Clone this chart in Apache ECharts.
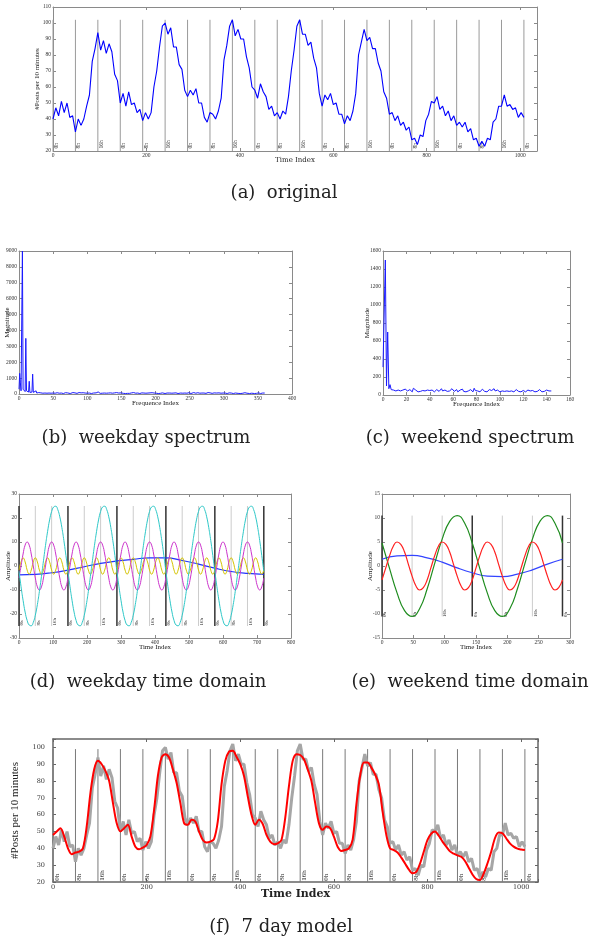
<!DOCTYPE html>
<html>
<head>
<meta charset="utf-8">
<script src="https://cdn.jsdelivr.net/npm/echarts@6/dist/echarts.min.js"></script>
<style>
  html, body { margin: 0; padding: 0; background: #fff; }
  #chart { width: 601px; height: 937px; }
</style>
</head>
<body>
<div id="chart"></div>
<script>
// posts per 10 minutes, one value every 6 time indices (0..1008)
const origStep = 6
const origVals = [
  40,47,42,51,44,50,41,42,32,40,36,40,
  48,55,76,84,94,83,89,81,87,82,68,64,
  50,56,48,57,49,50,44,46,39,44,40,44,
  60,70,85,98,100,93,97,85,85,74,71,58,
  54,58,55,59,50,50,41,38,44,43,40,45,
  53,77,86,98,102,92,96,90,90,79,72,60,
  58,53,62,57,54,46,48,42,44,40,45,43,
  54,70,83,98,102,93,93,86,88,78,72,56,
  48,55,52,56,49,50,43,43,37,42,39,45,
  56,80,88,96,89,91,84,84,75,70,57,53,
  43,44,39,42,36,38,33,35,27,28,24,30,
  29,39,43,51,50,54,46,48,42,45,39,42,
  36,38,35,38,32,34,27,28,23,26,23,28,
  27,38,40,48,48,55,48,49,46,47,41,44,
  41
]

// 7 day model, one value every 8 time indices
const modelStep = 8
const modelVals = [
  48,50,52,47,40,36.5,37.5,38,40,53,73,87,
  92,90,86,80,67,55,50,52,54,47,41,39.5,
  40.5,42,47,63,83,94,96,94,87,79,67,55,
  54,57,56,50,45,43.5,44,45.5,56,78,92,97.5,
  98,94.5,90,83,71,60,54,57,54.5,48,44,42.5,
  43,45,58,77,92,96,95.5,93,87,80,67,55,
  51,53,52,47,41,38.5,39,40,45,66,83,91,
  91,88,84,78,62,48,40,39,37.5,34.5,31,27.5,
  25.2,26,31,38,45,48.8,50,47.5,44,41,38.2,36.8,
  35.8,35,32.5,28.5,24.5,21.8,21.2,25,31,38,46,49.4,
  49,46,43,41,39.8,39.3,39
]

// weekday spectrum magnitude, frequence index 0..360
const weekdayMag = [
  300,1300,700,200,250,9000,300,200,300,150,
  3500,200,120,80,120,800,100,60,90,120,
  1250,100,60,80,70,200,60,80,50,90,
  100,40,70,60,90,50,30,80,60,40,
  70,50,90,40,60,30,80,50,70,40,
  60,90,30,50,70,40,80,60,30,50,
  90,40,60,110,50,30,70,40,80,60,
  40,70,100,50,60,30,80,50,40,90,
  60,30,70,50,80,40,60,30,90,50,
  40,70,60,30,80,50,40,60,70,30,
  50,80,40,60,90,50,30,70,40,60,
  80,50,40,70,60,100,130,90,60,40,
  140,70,50,80,40,60,30,70,50,40,
  90,60,30,50,70,40,80,50,60,30,
  70,40,60,90,50,30,60,80,40,50,
  70,30,60,40,80,50,30,70,60,40,
  50,80,40,60,30,70,50,40,90,60,
  30,50,70,40,60,80,50,30,60,40,
  70,50,40,60,30,80,50,70,40,60,
  50,30,70,60,40,80,50,40,60,70,
  100,50,40,70,30,60,80,40,50,30,
  70,40,60,50,30,80,40,60,70,50,
  40,60,30,70,50,40,80,60,30,50,
  70,40,60,30,80,50,40,60,70,30,
  50,80,40,60,30,70,50,40,60,80,
  40,60,30,70,50,40,90,60,30,50,
  70,40,80,60,90,50,70,40,60,80,
  100,60,50,80,40,70,60,90,50,40,
  70,50,80,40,60,30,70,50,40,60,
  80,50,40,70,60,30,50,80,40,60,
  70,40,60,50,80,30,60,40,70,50,
  40,60,90,50,30,70,40,60,80,50,
  60,40,70,50,30,80,60,40,70,50,
  40,80,60,100,50,40,60,70,30,60,
  80,50,40,70,60,30,50,70,40,60,
  50,70,40,60,30,50,40,60,50,40,
  60
]

// weekend spectrum magnitude, frequence index 0..144
const weekendMag = [
  310,330,1500,100,700,70,115,60,75,55,
  60,45,65,55,35,45,40,55,50,65,
  75,45,40,60,45,35,75,70,55,40,
  35,45,40,55,50,35,45,60,55,65,
  50,40,55,45,35,50,60,45,40,55,
  70,45,35,55,50,40,60,45,55,70,
  50,40,45,60,35,50,55,45,65,40,
  50,35,55,45,40,60,45,35,75,50,
  40,45,55,35,50,65,45,40,55,35,
  45,60,40,50,35,70,45,40,55,45,
  35,50,45,60,40,35,45,55,40,35,
  45,40,35,50,60,45,40,55,35,45,
  50,40,35,45,55,40,45,35,50,40,
  35,45,40,55,60,45,35,50,40,45,
  55,40,45,50,45
]

// weekday time domain components, one value every 6 indices (0..720)
const wdStep = 6
const wdCyan = [
  -2.2,-8.6,-14.3,-19.2,-22.7,-24.6,-24.9,-23.5,-20.5,-16.1,-10.6,-4.4,2.2,8.6,14.3,19.2,22.7,24.6,24.9,23.5,20.5,16.1,10.6,4.4,
  -2.2,-8.6,-14.3,-19.2,-22.7,-24.6,-24.9,-23.5,-20.5,-16.1,-10.6,-4.4,2.2,8.6,14.3,19.2,22.7,24.6,24.9,23.5,20.5,16.1,10.6,4.4,
  -2.2,-8.6,-14.3,-19.2,-22.7,-24.6,-24.9,-23.5,-20.5,-16.1,-10.6,-4.4,2.2,8.6,14.3,19.2,22.7,24.6,24.9,23.5,20.5,16.1,10.6,4.4,
  -2.2,-8.6,-14.3,-19.2,-22.7,-24.6,-24.9,-23.5,-20.5,-16.1,-10.6,-4.4,2.2,8.6,14.3,19.2,22.7,24.6,24.9,23.5,20.5,16.1,10.6,4.4,
  -2.2,-8.6,-14.3,-19.2,-22.7,-24.6,-24.9,-23.5,-20.5,-16.1,-10.6,-4.4,2.2,8.6,14.3,19.2,22.7,24.6,24.9,23.5,20.5,16.1,10.6,4.4,
  -2.2
]
const wdMagenta = [
  -5,0,5,8.7,10,8.7,5,0,-5,-8.7,-10,-8.7,
  -5,0,5,8.7,10,8.7,5,0,-5,-8.7,-10,-8.7,
  -5,0,5,8.7,10,8.7,5,0,-5,-8.7,-10,-8.7,
  -5,0,5,8.7,10,8.7,5,0,-5,-8.7,-10,-8.7,
  -5,0,5,8.7,10,8.7,5,0,-5,-8.7,-10,-8.7,
  -5,0,5,8.7,10,8.7,5,0,-5,-8.7,-10,-8.7,
  -5,0,5,8.7,10,8.7,5,0,-5,-8.7,-10,-8.7,
  -5,0,5,8.7,10,8.7,5,0,-5,-8.7,-10,-8.7,
  -5,0,5,8.7,10,8.7,5,0,-5,-8.7,-10,-8.7,
  -5,0,5,8.7,10,8.7,5,0,-5,-8.7,-10,-8.7,
  -5
]
const wdYellow = [
  -1.7,1.7,3.4,1.7,-1.7,-3.4, -1.7,1.7,3.4,1.7,-1.7,-3.4, -1.7,1.7,3.4,1.7,-1.7,-3.4, -1.7,1.7,3.4,1.7,-1.7,-3.4,
  -1.7,1.7,3.4,1.7,-1.7,-3.4, -1.7,1.7,3.4,1.7,-1.7,-3.4, -1.7,1.7,3.4,1.7,-1.7,-3.4, -1.7,1.7,3.4,1.7,-1.7,-3.4,
  -1.7,1.7,3.4,1.7,-1.7,-3.4, -1.7,1.7,3.4,1.7,-1.7,-3.4, -1.7,1.7,3.4,1.7,-1.7,-3.4, -1.7,1.7,3.4,1.7,-1.7,-3.4,
  -1.7,1.7,3.4,1.7,-1.7,-3.4, -1.7,1.7,3.4,1.7,-1.7,-3.4, -1.7,1.7,3.4,1.7,-1.7,-3.4, -1.7,1.7,3.4,1.7,-1.7,-3.4,
  -1.7,1.7,3.4,1.7,-1.7,-3.4, -1.7,1.7,3.4,1.7,-1.7,-3.4, -1.7,1.7,3.4,1.7,-1.7,-3.4, -1.7,1.7,3.4,1.7,-1.7,-3.4,
  -1.7
]
// slow component, one value every 48 indices
const wdBlueStep = 48
const wdBlue = [-3.7,-3.5,-2.8,-1.7,-0.3,1.1,2.1,2.8,3.4,3.4,2.3,0.8,-0.9,-2.3,-3.1,-3.5]

// weekend time domain components (0..288)
const weGreenStep = 12
const weGreen = [
  4.8,-0.5,-5.6,-9.3,-10.5,-8.9,-4.8,0.5,5.6,9.3,10.5,8.9,
  4.8,-0.5,-5.6,-9.3,-10.5,-8.9,-4.8,0.5,5.6,9.3,10.5,8.9,
  4.8
]
const weRedStep = 6
const weRed = [
  -2.9,-0.4,2.1,4.1,5,4.5,2.9,0.4,-2.1,-4.1,-5,-4.5,
  -2.9,-0.4,2.1,4.1,5,4.5,2.9,0.4,-2.1,-4.1,-5,-4.5,
  -2.9,-0.4,2.1,4.1,5,4.5,2.9,0.4,-2.1,-4.1,-5,-4.5,
  -2.9,-0.4,2.1,4.1,5,4.5,2.9,0.4,-2.1,-4.1,-5,-4.5,
  -2.9
]
const weBlueStep = 24
const weBlue = [1.4,2.1,2.2,1.7,0.8,-0.4,-1.4,-2.1,-2.2,-1.7,-0.8,0.4,1.4]

// hour markers every 8 hours (48 time indices)
const hourLabels = ['0h', '8h', '16h']
const markStep = 48

const captions = [
  '(a)  original',
  '(b)  weekday spectrum',
  '(c)  weekend spectrum',
  '(d)  weekday time domain',
  '(e)  weekend time domain',
  '(f)  7 day model',
]

const serif = 'Liberation Serif'
const wide = 'DejaVu Serif'

function pairs(vals, step) {
  return vals.map((v, i) => [i * step, v])
}

function marks(count, y0, y1, yText) {
  const out = []
  for (let k = 0; k <= count; k++) out.push([k * markStep, y0, y1, yText, k % 3])
  return out
}

function markRender(look) {
  return (params, api) => {
    const x = api.value(0)
    const p0 = api.coord([x, api.value(1)])
    const p1 = api.coord([x, api.value(2)])
    const pt = api.coord([x, api.value(3)])
    const phase = api.value(4)
    const day = phase === 0
    return {
      type: 'group',
      children: [
        {
          type: 'line',
          shape: { x1: p0[0], y1: p0[1], x2: p1[0], y2: p1[1] },
          style: { stroke: day ? look.dayColor : look.color, lineWidth: day ? look.dayWidth : look.width },
        },
        {
          type: 'text',
          x: pt[0] + 0.5,
          y: pt[1],
          rotation: Math.PI / 2,
          style: {
            text: hourLabels[phase],
            fontSize: look.size,
            fontFamily: serif,
            fill: '#222',
            align: 'left',
            verticalAlign: 'top',
          },
        },
      ],
    }
  }
}

const grids = [
  { left: 53, top: 7, width: 484, height: 144 },
  { left: 19, top: 251, width: 273, height: 143 },
  { left: 383, top: 251, width: 187, height: 144 },
  { left: 19, top: 494, width: 272, height: 144 },
  { left: 382, top: 494, width: 188, height: 144 },
  { left: 53, top: 739, width: 485, height: 143 },
].map((g) => ({ ...g, outerBoundsMode: 'none' }))

const xAxes = []
const yAxes = []

// box-style axes: labelled bottom/left, bare top/right with inward ticks
function frame(g, x, y, look) {
  const line = { show: true, onZero: false, lineStyle: { color: look.frame, width: look.frameWidth || 1 } }
  const tick = { show: true, inside: true, length: 3, lineStyle: { color: look.frame } }
  const label = { fontFamily: look.font, fontSize: look.size, color: '#333' }
  const fmt = (step) => (v) => (Math.abs(v / step - Math.round(v / step)) < 1e-6 ? String(v) : '')
  const base = { type: 'value', gridIndex: g, splitLine: { show: false } }
  xAxes.push({
    ...base, min: x[0], max: x[1], interval: x[2], position: 'bottom',
    axisLine: line, axisTick: tick,
    axisLabel: { ...label, margin: look.xMargin, formatter: fmt(x[2]) },
    name: look.xName, nameLocation: 'middle', nameGap: look.xGap, nameMoveOverlap: false,
    nameTextStyle: { fontFamily: look.xNameFont || serif, fontSize: look.xNameSize, color: '#222', fontWeight: look.xNameWeight || 'normal' },
  })
  xAxes.push({
    ...base, min: x[0], max: x[1], interval: x[2], position: 'top',
    axisLine: line, axisTick: tick, axisLabel: { show: false },
  })
  yAxes.push({
    ...base, min: y[0], max: y[1], interval: y[2], position: 'left',
    axisLine: line, axisTick: tick,
    axisLabel: { ...label, margin: look.yMargin, formatter: fmt(y[2]) },
    name: look.yName, nameLocation: 'middle', nameGap: look.yGap, nameMoveOverlap: false,
    nameTextStyle: { fontFamily: serif, fontSize: look.yNameSize, color: '#222' },
  })
  yAxes.push({
    ...base, min: y[0], max: y[1], interval: y[2], position: 'right',
    axisLine: line, axisTick: tick, axisLabel: { show: false },
  })
}

const small = { frame: '#8a8a8a', font: serif, size: 5.5, xMargin: 2, yMargin: 2, xNameSize: 7, yNameSize: 7 }

frame(0, [0, 1036, 200], [20, 110, 10], {
  ...small, xName: 'Time Index', xGap: 6, xNameFont: wide, yName: '#Posts per 10 minutes', yGap: 12.5,
})
frame(1, [0, 400, 50], [0, 9000, 1000], { ...small, xName: 'Frequence Index', xGap: 6, yName: 'Magnitude', yGap: 8.5 })
frame(2, [0, 160, 20], [0, 1600, 200], { ...small, xName: 'Frequence Index', xGap: 6, yName: 'Magnitude', yGap: 12.5 })
frame(3, [0, 800, 100], [-30, 30, 10], { ...small, xName: 'Time Index', xGap: 6, yName: 'Amplitude', yGap: 7.5 })
frame(4, [0, 300, 50], [-15, 15, 5], { ...small, xName: 'Time Index', xGap: 6, yName: 'Amplitude', yGap: 8 })
frame(5, [0, 1036, 200], [20, 105, 10], {
  frame: '#666', frameWidth: 1.5, font: wide, size: 6.5, xMargin: 2, yMargin: 8,
  xName: 'Time Index', xGap: 7, xNameFont: wide, xNameSize: 11, xNameWeight: 'bold',
  yName: '#Posts per 10 minutes', yGap: 32, yNameSize: 11,
})

function line(g, data, color, width, smooth) {
  return {
    type: 'line', xAxisIndex: 2 * g, yAxisIndex: 2 * g, data,
    symbol: 'none', smooth: smooth || false, z: 3,
    lineStyle: { color, width },
  }
}

function markerSeries(g, data, look) {
  return {
    type: 'custom', xAxisIndex: 2 * g, yAxisIndex: 2 * g, data,
    encode: { x: 0, y: [1, 2] }, renderItem: markRender(look), z: 1, silent: true,
  }
}

const captionPos = [[284, 193], [146, 438], [470, 438], [148, 682], [470, 682], [281, 927]]

const option = {
  animation: false,
  backgroundColor: '#fff',
  textStyle: { fontFamily: serif },
  grid: grids,
  xAxis: xAxes,
  yAxis: yAxes,
  graphic: captions.map((text, i) => ({
    type: 'text',
    x: captionPos[i][0],
    y: captionPos[i][1],
    style: { text, fontFamily: wide, fontSize: 18, fill: '#222', align: 'center', verticalAlign: 'middle' },
  })),
  series: [
    markerSeries(0, marks(21, 20, 102, 21.5), { color: '#9a9a9a', dayColor: '#9a9a9a', width: 1, dayWidth: 1, size: 5.5 }),
    line(0, pairs(origVals, origStep), '#0000ff', 1.1),

    line(1, pairs(weekdayMag, 1), '#1a1aff', 1),
    line(2, pairs(weekendMag, 1), '#1a1aff', 1),

    markerSeries(3, marks(15, -25, 25, -24.8), { color: '#cccccc', dayColor: '#333', width: 1, dayWidth: 1.5, size: 5 }),
    line(3, pairs(wdBlue, wdBlueStep), '#2233ff', 1.2, true),
    line(3, pairs(wdYellow, wdStep), '#d4c400', 1, true),
    line(3, pairs(wdMagenta, wdStep), '#cc33cc', 1, true),
    line(3, pairs(wdCyan, wdStep), '#2ec8c8', 1, true),

    markerSeries(4, marks(6, -10.5, 10.5, -10.6), { color: '#cccccc', dayColor: '#333', width: 1, dayWidth: 1.5, size: 5 }),
    line(4, pairs(weBlue, weBlueStep), '#3344ff', 1.2, true),
    line(4, pairs(weGreen, weGreenStep), '#1e8c1e', 1.2, true),
    line(4, pairs(weRed, weRedStep), '#ff2020', 1.2, true),

    markerSeries(5, marks(21, 20, 99, 20.8), { color: '#7a7a7a', dayColor: '#7a7a7a', width: 1, dayWidth: 1, size: 7 }),
    line(5, pairs(origVals, origStep), '#a6a6a6', 3),
    line(5, pairs(modelVals, modelStep), '#ff0000', 2, 0.3),
  ],
}

const chart = echarts.init(document.getElementById('chart'))
chart.setOption(option)
</script>
</body>
</html>
